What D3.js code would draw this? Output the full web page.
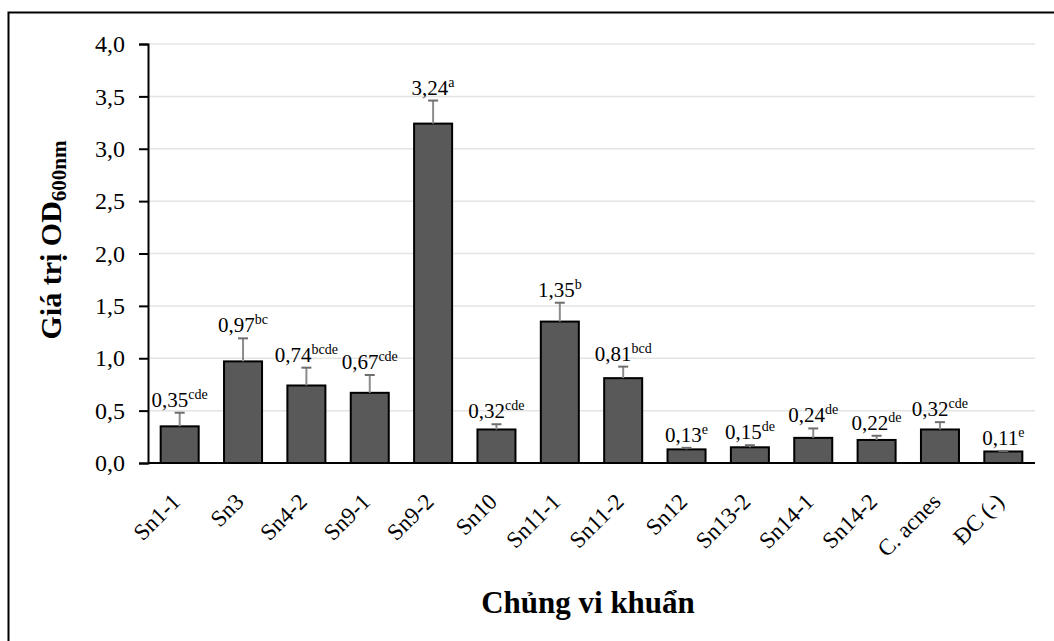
<!DOCTYPE html>
<html>
  <head>
    <meta charset="utf-8">
    <script src="https://cdn.jsdelivr.net/npm/d3@7"></script>
    <style>
      body { margin: 0; background: #fff; }
      text { font-family: 'Liberation Serif', 'DejaVu Serif', serif; fill: #000; }
    </style>
  </head>
  <body>
    <svg width="1054" height="641"></svg>
    <script>
      // dữ liệu
      const strains = ['Sn1-1', 'Sn3', 'Sn4-2', 'Sn9-1', 'Sn9-2', 'Sn10', 'Sn11-1', 'Sn11-2', 'Sn12', 'Sn13-2', 'Sn14-1', 'Sn14-2', 'C. acnes', 'ĐC (-)']
      const odValues = [0.35, 0.97, 0.74, 0.67, 3.24, 0.32, 1.35, 0.81, 0.13, 0.15, 0.24, 0.22, 0.32, 0.11]
      const errValues = [0.13, 0.22, 0.17, 0.17, 0.22, 0.05, 0.18, 0.11, 0.015, 0.02, 0.09, 0.04, 0.07, 0.005]
      const letters = ['cde', 'bc', 'bcde', 'cde', 'a', 'cde', 'b', 'bcd', 'e', 'de', 'de', 'de', 'cde', 'e']
      const yTicks = [0, 0.5, 1, 1.5, 2, 2.5, 3, 3.5, 4]

      const svg = d3.select('svg')
      const plotLeft = 148, plotRight = 1035, plotTop = 44, plotBottom = 463

      // khung ngoài (chỉ thấy cạnh trên và trái)
      svg.append('path')
        .attr('d', 'M8.5,641 V12.5 H1054')
        .attr('fill', 'none')
        .attr('stroke', '#000')
        .attr('stroke-width', 2)

      const x = d3.scaleBand().domain(strains).range([plotLeft, plotRight]).paddingInner(0.4).paddingOuter(0.2)
      const y = d3.scaleLinear().domain([0, 4]).range([plotBottom, plotTop])
      const fmt = (v) => d3.format('.1f')(v).replace('.', ',')
      const fmt2 = (v) => d3.format('.2f')(v).replace('.', ',')

      // lưới ngang
      svg.append('g')
        .selectAll('line')
        .data(yTicks.slice(1))
        .enter()
        .append('line')
        .attr('x1', plotLeft).attr('x2', plotRight)
        .attr('y1', (d) => y(d)).attr('y2', (d) => y(d))
        .attr('stroke', '#e4e4e4')
        .attr('stroke-width', 1.5)

      // trục y
      const yAxis = svg.append('g')
        .attr('transform', `translate(${plotLeft},0)`)
        .call(d3.axisLeft(y).tickValues(yTicks).tickFormat(fmt).tickSize(9).tickPadding(14))
      yAxis.select('.domain').attr('stroke', '#000').attr('stroke-width', 2)
      yAxis.selectAll('.tick line').attr('stroke', '#000').attr('stroke-width', 2)
      yAxis.selectAll('.tick text').style('font-size', '24px').style('font-family', "'Liberation Serif', serif")

      // cột
      svg.append('g')
        .selectAll('rect')
        .data(strains)
        .enter()
        .append('rect')
        .attr('x', (d) => x(d))
        .attr('y', (d, i) => y(odValues[i]))
        .attr('width', x.bandwidth())
        .attr('height', (d, i) => y(0) - y(odValues[i]))
        .attr('fill', '#595959')
        .attr('stroke', '#000')
        .attr('stroke-width', 2)

      // thanh sai số
      const eb = svg.append('g')
      strains.forEach((s, i) => {
        const cx = x(s) + x.bandwidth() / 2
        const yt = y(odValues[i] + errValues[i])
        eb.append('line')
          .attr('x1', cx).attr('x2', cx)
          .attr('y1', y(odValues[i])).attr('y2', yt)
          .attr('stroke', '#8c8c8c').attr('stroke-width', 2)
        eb.append('line')
          .attr('x1', cx - 5).attr('x2', cx + 5)
          .attr('y1', yt).attr('y2', yt)
          .attr('stroke', '#6e6e6e').attr('stroke-width', 2)
      })

      // nhãn giá trị
      const lab = svg.append('g')
        .selectAll('text')
        .data(strains)
        .enter()
        .append('text')
        .attr('x', (d) => x(d) + x.bandwidth() / 2)
        .attr('y', (d, i) => y(odValues[i] + errValues[i]) - 6)
        .attr('text-anchor', 'middle')
        .style('font-size', '21px')
      lab.append('tspan').text((d, i) => fmt2(odValues[i]))
      lab.append('tspan')
        .attr('dy', -8)
        .style('font-size', '14px')
        .text((d, i) => letters[i])

      // trục x
      svg.append('line')
        .attr('x1', plotLeft).attr('x2', plotRight)
        .attr('y1', plotBottom).attr('y2', plotBottom)
        .attr('stroke', '#000').attr('stroke-width', 2)

      svg.append('g')
        .selectAll('text')
        .data(strains)
        .enter()
        .append('text')
        .attr('transform', (d) => `translate(${x(d) + x.bandwidth() / 2 + 2},${plotBottom + 40}) rotate(-45)`)
        .attr('text-anchor', 'end')
        .style('font-size', '23px')
        .text((d) => d)

      // tiêu đề trục
      const yTitle = svg.append('text')
        .attr('transform', 'translate(61,240) rotate(-90)')
        .attr('text-anchor', 'middle')
        .style('font-size', '30px')
        .style('font-weight', 'bold')
      yTitle.append('tspan').text('Giá trị OD')
      yTitle.append('tspan').attr('dy', 5).style('font-size', '21px').text('600nm')

      svg.append('text')
        .attr('x', 588)
        .attr('y', 613)
        .attr('text-anchor', 'middle')
        .style('font-size', '31px')
        .style('font-weight', 'bold')
        .text('Chủng vi khuẩn')
    </script>
  </body>
</html>
